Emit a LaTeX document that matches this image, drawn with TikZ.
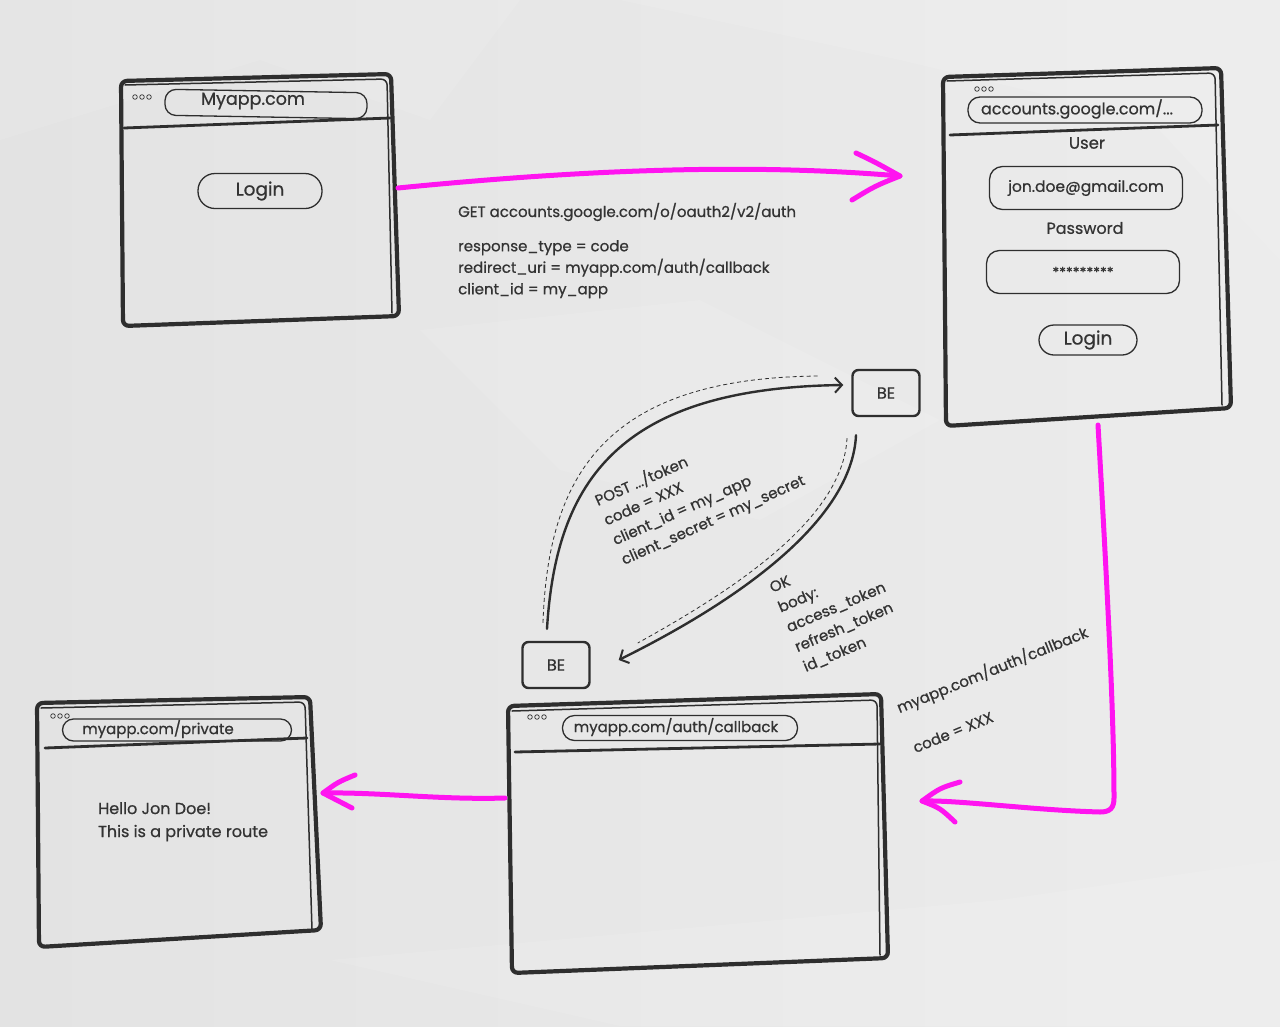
\documentclass[tikz,border=0pt]{standalone}
\usepackage{fontspec}
\setmainfont{Poppins}[FakeBold=0.7]
\usetikzlibrary{arrows.meta,calc}
\definecolor{ink}{HTML}{2E2E2E}
\definecolor{txt}{HTML}{333333}
\definecolor{mag}{HTML}{FF14F0}
\definecolor{paperL}{HTML}{E3E3E3}
\definecolor{paperR}{HTML}{ECECEC}
\tikzset{
  winthick/.style={draw=ink, line width=4.2pt, line join=round, line cap=round, rounded corners=6pt},
  winthin/.style={draw=ink, line width=1.5pt, line cap=round, rounded corners=6pt},
  sepline/.style={draw=ink, line width=2.8pt, line cap=round},
  pill/.style={draw=ink, line width=1.3pt, rounded corners=11pt, inner sep=0pt, text=txt},
  dotc/.style={draw=ink, line width=0.7pt},
  lbl/.style={text=txt, inner sep=0pt, font=\fontsize{15}{21.5}\selectfont},
  bebox/.style={draw=ink, line width=2.4pt, rounded corners=6pt, text=txt, inner sep=0pt,
    minimum width=67pt, minimum height=46pt, font=\fontsize{16}{19}\selectfont},
  magline/.style={draw=mag, line width=5pt, line cap=round, line join=round},
  flow/.style={draw=ink, line width=2.4pt, line cap=round, -{Straight Barb[length=7pt,width=15pt,line width=2pt]}},
  flowdash/.style={draw=ink, line width=0.8pt, dashed, dash pattern=on 4pt off 3pt},
  crease/.style={fill=white, opacity=0.10, draw=none}
}
\begin{document}
\begin{tikzpicture}[x=1pt,y=-1pt]
\useasboundingbox (0,0) rectangle (1280,1026);
\shade[left color=paperL, right color=paperR] (0,0) rectangle (1280,1026);
% soft crumple highlights
\fill[crease] (0,0) -- (520,0) -- (430,120) -- (260,60) -- (0,140) -- cycle;
\fill[crease] (620,0) -- (1280,0) -- (1280,260) -- (1150,120) -- (900,60) -- cycle;
\fill[crease] (420,330) -- (700,300) -- (940,420) -- (760,520) -- (560,470) -- cycle;
\fill[crease] (330,960) -- (620,1026) -- (1280,1026) -- (1280,860) -- (1000,900) -- cycle;

% ---------- Window A : Myapp.com ----------
\draw[winthick] (121,81) -- (391,74) -- (399,316) -- (123,326) -- cycle;
\draw[winthin] (125,85) -- (387,79) -- (392,313);
\draw[sepline] (124,128) -- (390,118);
\foreach \i in {0,1,2} \draw[dotc] ({135+7*\i},97) circle (2.3pt);
\node[pill, minimum width=202pt, minimum height=26pt, rotate=-1] (urlA) at (266,104) {};
\node[lbl, font=\fontsize{17.5}{21}\selectfont] (urlAt) at (253,101) {Myapp.com};
\node[pill, rounded corners=17pt, minimum width=124pt, minimum height=35pt, font=\fontsize{18.5}{22}\selectfont] (loginA) at (260,191) {Login};
\coordinate (A-e) at (398,188);

% ---------- Window B : accounts.google.com ----------
\draw[winthick] (943,77) -- (1221,68) -- (1231,408) -- (946,426) -- cycle;
\draw[winthin] (947,81) -- (1215,73) -- (1222,405);
\draw[sepline] (950,135) -- (1218,125);
\foreach \i in {0,1,2} \draw[dotc] ({977+7*\i},89) circle (2.3pt);
\node[pill, minimum width=234pt, minimum height=26pt, rounded corners=12pt] (urlB) at (1085,110) {};
\node[lbl, font=\fontsize{16}{19}\selectfont] (urlBt) at (1077,109) {accounts.google.com/...};
\node[lbl, font=\fontsize{16.5}{20}\selectfont] (userl) at (1087,143) {User};
\node[pill, rounded corners=13pt, minimum width=193pt, minimum height=43pt, font=\fontsize{15.5}{19}\selectfont] (email) at (1086,188) {jon.doe@gmail.com};
\node[lbl, font=\fontsize{16}{20}\selectfont] (pwdl) at (1085,228) {Password};
\node[pill, rounded corners=13pt, minimum width=193pt, minimum height=43pt, font=\fontsize{14}{17}\selectfont] (pwd) at (1083,272) {*********};
\node[pill, rounded corners=15pt, minimum width=98pt, minimum height=30pt, font=\fontsize{18.5}{21}\selectfont] (loginB) at (1088,340) {Login};
\coordinate (B-w) at (900,176);
\coordinate (B-s) at (1098,425);

% ---------- Window C : callback ----------
\draw[winthick] (508,706) -- (881,694) -- (888,958) -- (512,973) -- cycle;
\draw[winthin] (512,711) -- (877,700) -- (880,955);
\draw[sepline] (515,752) -- (880,744);
\foreach \i in {0,1,2} \draw[dotc] ({530+7*\i},717) circle (2.3pt);
\node[pill, minimum width=235pt, minimum height=25pt, rounded corners=12pt] (urlC) at (680,728) {};
\node[lbl, font=\fontsize{15}{18}\selectfont] (urlCt) at (676,727) {myapp.com/auth/callback};
\coordinate (C-e) at (922,801);
\coordinate (C-w) at (505,798);

% ---------- Window D : private ----------
\draw[winthick] (37,703) -- (310,697) -- (321,930) -- (39,947) -- cycle;
\draw[winthin] (41,708) -- (305,702) -- (312,930);
\draw[sepline] (45,748) -- (307,738);
\foreach \i in {0,1,2} \draw[dotc] ({53+7*\i},716) circle (2.3pt);
\node[pill, minimum width=229pt, minimum height=22pt, rounded corners=11pt] (urlD) at (177,730) {};
\node[lbl, font=\fontsize{15}{18}\selectfont] (urlDt) at (158,729) {myapp.com/private};
\node[lbl, font=\fontsize{16}{23}\selectfont, align=left, anchor=north west] (hello) at (98,802) {Hello Jon Doe!\\This is a private route};
\coordinate (D-e) at (323,793);

% ---------- BE boxes ----------
\node[bebox] (beT) at (886,393) {BE};
\node[bebox] (beB) at (556,665) {BE};

% ---------- Labels ----------
\node[lbl, anchor=base west] (getl) at (458,217) {GET accounts.google.com/o/oauth2/v2/auth};
\node[lbl, anchor=north west, align=left] (params) at (458,240) {response\_type = code\\redirect\_uri = myapp.com/auth/callback\\client\_id = my\_app};
\node[lbl, anchor=north west, align=left, rotate=24] (postl) at (592,493) {POST .../token\\code = XXX\\client\_id = my\_app\\client\_secret = my\_secret};
\node[lbl, anchor=north west, align=left, rotate=23] (okl) at (768,583) {OK\\body:\\access\_token\\refresh\_token\\id\_token};
\node[lbl, anchor=north west, align=left, rotate=22] (cbl) at (894,700) {myapp.com/auth/callback\\[21.5pt]code = XXX};

% ---------- Magenta arrows ----------
\draw[magline] (A-e) .. controls (600,168) and (760,164) .. (B-w);
\draw[magline] (856,153) .. controls (875,162) .. (B-w) .. controls (875,186) .. (852,200);

\draw[magline] (B-s) .. controls (1108,600) and (1114,720) .. (1114,798)
  .. controls (1114,808) and (1110,812) .. (1100,812)
  .. controls (1030,810) and (960,800) .. (C-e);
\draw[magline] (960,782) .. controls (940,788) .. (C-e) .. controls (940,808) .. (955,822);

\draw[magline] (C-w) .. controls (440,800) and (380,792) .. (D-e);
\draw[magline] (355,775) .. controls (338,782) .. (D-e) .. controls (338,800) .. (352,808);

% ---------- Black flows ----------
\draw[flow] ($(beB.north)+(-9,-12)$) .. controls (556,480) and (620,388) .. ($(beT.west)+(-8,-8)$);
\draw[flowdash] ($(beB.north)+(-13,-18)$) .. controls (548,470) and (610,378) .. ($(beT.west)+(-33,-17)$);

\draw[flow] ($(beT.south)+(-30,18)$) .. controls (852,520) and (740,600) .. ($(beB.east)+(28,-5)$);
\draw[flowdash] ($(beT.south)+(-39,21)$) .. controls (843,520) and (730,592) .. ($(beB.east)+(47,-22)$);

\end{tikzpicture}
\end{document}
